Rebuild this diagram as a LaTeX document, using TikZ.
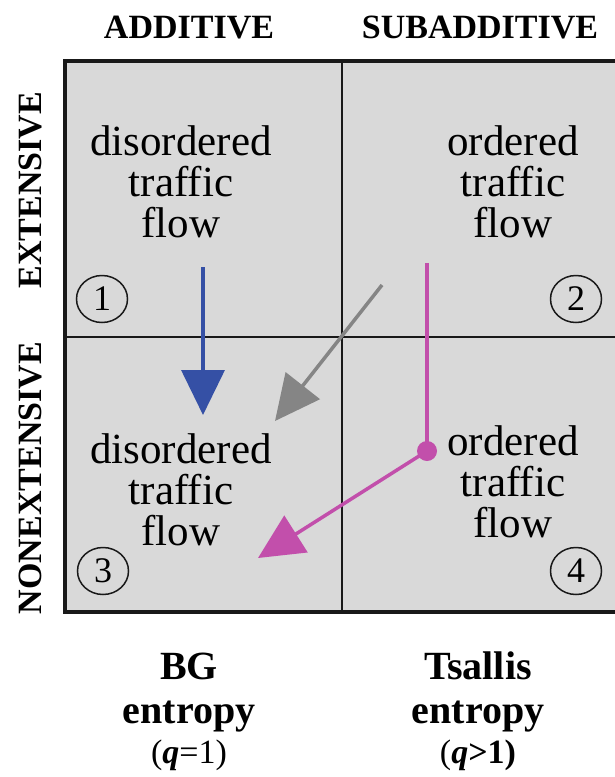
\documentclass[tikz,border=0pt]{standalone}
\usepackage{fontspec}
\setmainfont{Liberation Serif}
\usetikzlibrary{arrows.meta,shapes.geometric}
\definecolor{cellgray}{RGB}{217,217,217}
\definecolor{framecol}{RGB}{25,25,25}
\definecolor{arrblue}{RGB}{53,80,165}
\definecolor{arrgray}{RGB}{133,133,133}
\definecolor{arrmag}{RGB}{194,79,171}
\tikzset{
  celltext/.style={anchor=base, inner sep=0pt, font=\fontsize{43}{43}\selectfont},
  header/.style={anchor=base, inner sep=0pt, font=\fontsize{34}{34}\selectfont\bfseries},
  sidelabel/.style={anchor=base, inner sep=0pt, rotate=90, font=\fontsize{34}{34}\selectfont\bfseries},
  bottomlabel/.style={anchor=base, inner sep=0pt, font=\fontsize{40}{40}\selectfont\bfseries},
  qlabel/.style={anchor=base, inner sep=0pt, font=\fontsize{34}{34}\selectfont},
  circnum/.style={ellipse, draw=framecol, line width=1.5pt, minimum width=51pt, minimum height=47pt, inner sep=0pt, font=\fontsize{36}{36}\selectfont},
  flowarrow/.style={line width=3.5pt, -{Triangle[length=45pt,width=43pt]}},
}
\begin{document}
\begin{tikzpicture}[x=1pt,y=-1pt]
\useasboundingbox (0,0) rectangle (615,777);
\clip (0,0) rectangle (615,777);
% grid
\fill[cellgray] (65,61) rectangle (630,612);
\draw[framecol, line width=1.8pt] (342,61) -- (342,612);
\draw[framecol, line width=1.8pt] (65,337) -- (630,337);
\draw[framecol, line width=3.5pt] (630,61) -- (65,61) -- (65,612) -- (630,612);
% headers
\node[header] (hadd) at (189,38) {ADDITIVE};
\node[header] (hsub) at (480,38) {SUBADDITIVE};
\node[sidelabel] (hext) at (41,190) {EXTENSIVE};
\node[sidelabel] (hnon) at (41,478) {NONEXTENSIVE};
% cell texts
\node[celltext] (a1) at (181,155) {disordered};
\node[celltext] (a2) at (181,196) {traffic};
\node[celltext] (a3) at (181,237) {flow};
\node[celltext] (b1) at (513,155) {ordered};
\node[celltext] (b2) at (513,196) {traffic};
\node[celltext] (b3) at (513,237) {flow};
\node[celltext] (c1) at (181,463) {disordered};
\node[celltext] (c2) at (181,504) {traffic};
\node[celltext] (c3) at (181,545) {flow};
\node[celltext] (d1) at (513,455) {ordered};
\node[celltext] (d2) at (513,496) {traffic};
\node[celltext] (d3) at (513,537) {flow};
% circled numbers
\node[circnum] (n1) at (102,299) {1};
\node[circnum] (n2) at (576,299) {2};
\node[circnum] (n3) at (103,571) {3};
\node[circnum] (n4) at (576,571) {4};
% arrows
\coordinate (bs) at (203,267);
\coordinate (be) at (203,415);
\draw[flowarrow, arrblue] (bs) -- (be);
\coordinate (gs) at (382,285);
\coordinate (ge) at (275,421);
\draw[flowarrow, arrgray] (gs) -- (ge);
\coordinate (ms) at (427,263);
\node[circle, fill=arrmag, minimum size=20pt, inner sep=0pt] (mdot) at (427,451) {};
\coordinate (me) at (258,558);
\draw[arrmag, line width=3.5pt] (ms) -- (mdot.center);
\draw[flowarrow, arrmag] (mdot.center) -- (me);
% bottom labels
\node[bottomlabel] (bg1) at (189,679) {BG};
\node[bottomlabel] (bg2) at (189,723) {entropy};
\node[qlabel] (bg3) at (189,763) {(\textbf{\textit{q}}=1)};
\node[bottomlabel] (ts1) at (478,679) {Tsallis};
\node[bottomlabel] (ts2) at (478,723) {entropy};
\node[qlabel] (ts3) at (478,763) {(\textbf{\textit{q}}\textbf{>1)}};
\end{tikzpicture}
\end{document}
